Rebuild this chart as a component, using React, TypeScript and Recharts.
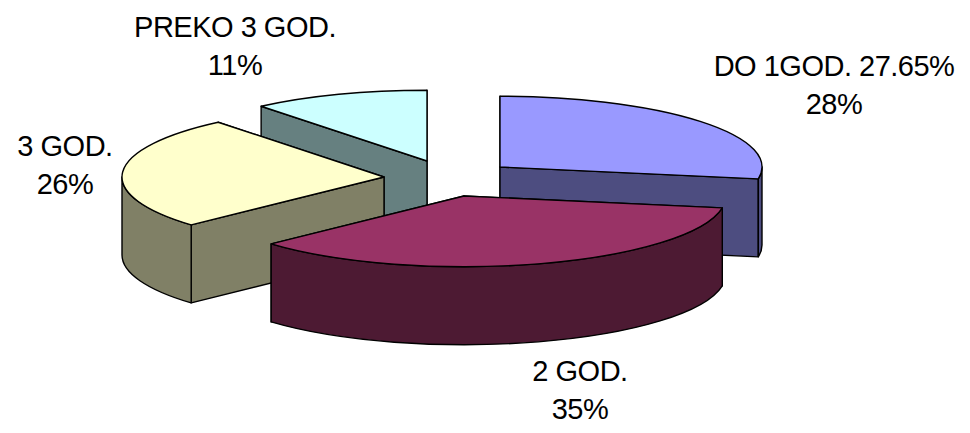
import React from 'react';
import { PieChart, Pie } from 'recharts';

const names = ['DO 1GOD. 27.65%', '2 GOD.', '3 GOD.', 'PREKO 3 GOD.'];
const shares = [27.65, 35.45, 25.9, 10.9];

const topColors = ['#9999FF', '#993366', '#FFFFCC', '#CCFFFF'];
const wallColors = ['#4D4D80', '#4D1A33', '#808066', '#668080'];

// exploded position of each slice, relative to the pie centre
const explode = [
  [58, -28],
  [22, 1],
  [-58, -18],
  [-15, -34],
];
// centre of each two line label
const labelCenters = [
  [834, 67],
  [580, 372],
  [65, 147],
  [235, 28],
];
// back to front
const paintOrder = [3, 0, 2, 1];

const chartData = names.map((name, i) => ({ name, value: shares[i] }));

const TILT = 0.27;
const DEPTH = 78;
const RAD = Math.PI / 180;

const SliceShape = (props: any, only: number) => {
  const { index, startAngle, endAngle, outerRadius, cx, cy } = props;
  if (index !== only) return <g />;
  const ox = cx + explode[only][0];
  const oy = cy + explode[only][1];
  const rx = outerRadius;
  const ry = outerRadius * TILT;
  const px = (a: number) => ox + rx * Math.cos(a * RAD);
  const py = (a: number) => oy - ry * Math.sin(a * RAD);

  const arc = (from: number, to: number, dy: number, clockwise: boolean) => {
    const large = Math.abs(to - from) > 180 ? 1 : 0;
    return `A${rx} ${ry} 0 ${large} ${clockwise ? 1 : 0} ${px(to)} ${py(to) + dy}`;
  };

  const face = (a: number) =>
    `M${ox} ${oy}L${px(a)} ${py(a)}L${px(a)} ${py(a) + DEPTH}L${ox} ${oy + DEPTH}Z`;

  // radial faces, the one further back first
  const faces = [startAngle, endAngle].sort((a, b) => py(a) - py(b));

  // outer wall is only seen on the front half of the ellipse (-180..0 going clockwise)
  const walls: string[] = [];
  for (const shift of [0, -360]) {
    const from = Math.min(startAngle + shift, 0);
    const to = Math.max(endAngle + shift, -180);
    if (from > to) {
      walls.push(
        `M${px(from)} ${py(from)}${arc(from, to, 0, true)}L${px(to)} ${py(to) + DEPTH}${arc(to, from, DEPTH, false)}Z`,
      );
    }
  }

  const top = `M${ox} ${oy}L${px(startAngle)} ${py(startAngle)}${arc(startAngle, endAngle, 0, true)}Z`;
  const line = { stroke: '#000', strokeWidth: 1.4, strokeLinejoin: 'round' as const };

  return (
    <g>
      {faces.map(a => (
        <path key={a} d={face(a)} fill={wallColors[only]} {...line} />
      ))}
      {walls.map(d => (
        <path key={d} d={d} fill={wallColors[only]} {...line} />
      ))}
      <path d={top} fill={topColors[only]} {...line} />
    </g>
  );
};

const SliceLabel = (props: any, only: number) => {
  const { index, name, percent } = props;
  if (index !== only) return <g />;
  const [x, y] = labelCenters[only];
  const common = {
    x,
    textAnchor: 'middle' as const,
    fontFamily: 'Liberation Sans',
    fontSize: 29,
    fill: '#000',
    letterSpacing: -0.5,
  };
  return (
    <g>
      <text {...common} y={y + 9}>{name}</text>
      <text {...common} y={y + 47}>{Math.round(percent * 100)}%</text>
    </g>
  );
};

const App: React.FC = () => (
  <div style={{ position: 'absolute', left: 0, top: 0 }}>
    <PieChart width={970} height={433} margin={{ top: 0, right: 0, bottom: 0, left: 0 }}>
      {paintOrder.map(i => (
        <Pie
          key={i}
          data={chartData}
          dataKey="value"
          nameKey="name"
          cx={442}
          cy={195}
          innerRadius={0}
          outerRadius={262}
          startAngle={90}
          endAngle={-270}
          isAnimationActive={false}
          labelLine={false}
          label={(p: any) => SliceLabel(p, i)}
          shape={(p: any) => SliceShape(p, i)}
          stroke="none"
        />
      ))}
    </PieChart>
  </div>
);

export default App;
